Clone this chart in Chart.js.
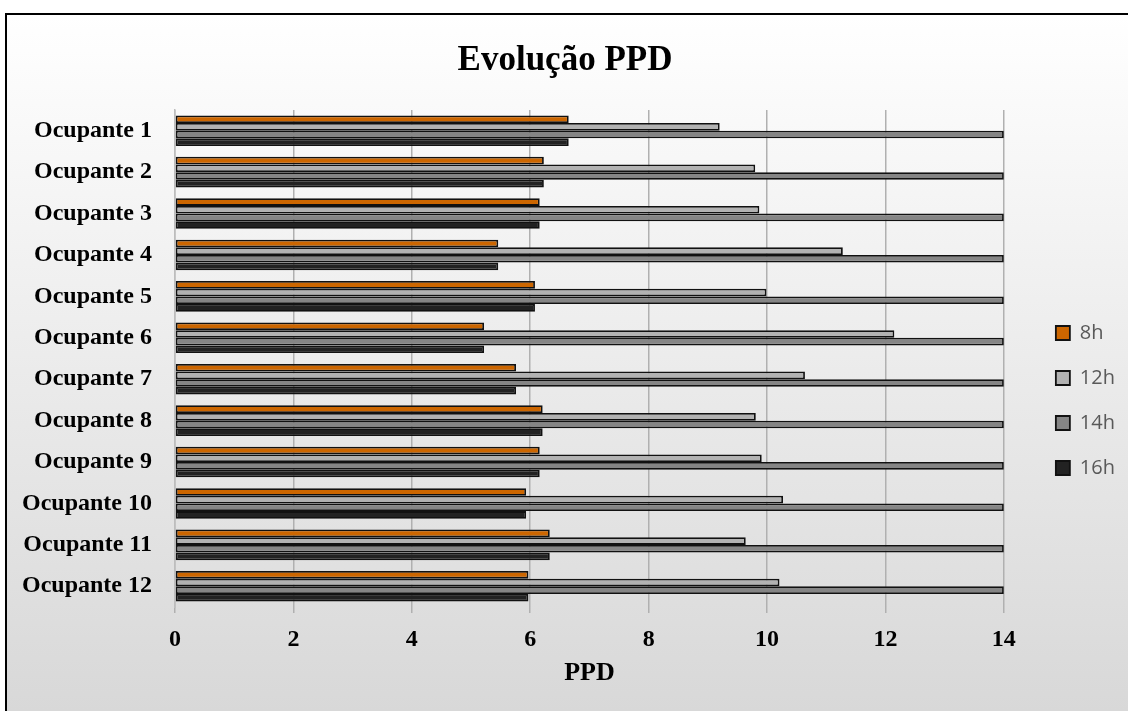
<!DOCTYPE html>
<html>
<head>
<meta charset="utf-8">
<script src="https://cdn.jsdelivr.net/npm/chart.js@4/dist/chart.umd.min.js"></script>
<style>
html, body { margin: 0; padding: 0; background: #fff; }
#wrap { width: 1128px; height: 711px; }
</style>
</head>
<body>
<div id="wrap"><canvas id="ppdChart"></canvas></div>
<script>
// data
const ocupantes = ['Ocupante 1', 'Ocupante 2', 'Ocupante 3', 'Ocupante 4', 'Ocupante 5', 'Ocupante 6',
    'Ocupante 7', 'Ocupante 8', 'Ocupante 9', 'Ocupante 10', 'Ocupante 11', 'Ocupante 12'];
const ppd8h = [6.65, 6.23, 6.16, 5.46, 6.08, 5.22, 5.76, 6.21, 6.16, 5.93, 6.33, 5.97];
const ppd12h = [9.20, 9.80, 9.87, 11.28, 9.99, 12.15, 10.64, 9.81, 9.91, 10.27, 9.64, 10.21];
const ppd14h = [14, 14, 14, 14, 14, 14, 14, 14, 14, 14, 14, 14];
const ppd16h = [6.65, 6.23, 6.16, 5.46, 6.08, 5.22, 5.76, 6.21, 6.16, 5.93, 6.33, 5.97];
const xTicks = [0, 2, 4, 6, 8, 10, 12, 14];

const serif = 'Liberation Serif';

// gradient background + outer frame
const chartFrame = {
    id: 'chartFrame',
    beforeDraw(chart) {
        const { ctx, width, height } = chart;
        ctx.save();
        ctx.fillStyle = '#ffffff';
        ctx.fillRect(0, 0, width, height);
        const g = ctx.createLinearGradient(0, 14, 0, height);
        g.addColorStop(0, '#ffffff');
        g.addColorStop(1, '#d8d8d8');
        ctx.fillStyle = g;
        ctx.fillRect(6, 14, width, height);
        ctx.strokeStyle = '#000';
        ctx.lineWidth = 2;
        ctx.strokeRect(6, 14, width + 10, height + 10);
        ctx.restore();
    }
};

// nudge legend and title to where the original has them
const boxNudge = {
    id: 'boxNudge',
    afterLayout(chart) {
        const lg = chart.legend;
        if (lg) {
            lg.left += 27; lg.right += 27;
            lg.top += 56; lg.bottom += 56;
        }
        const tb = chart.titleBlock;
        if (tb) {
            tb.left += 13; tb.right += 13;
        }
    }
};

const ctx = document.getElementById('ppdChart').getContext('2d');

new Chart(ctx, {
    type: 'bar',
    data: {
        labels: ocupantes,
        datasets: [
            { label: '8h', data: ppd8h, backgroundColor: '#cc6600' },
            { label: '12h', data: ppd12h, backgroundColor: '#b2b2b2' },
            { label: '14h', data: ppd14h, backgroundColor: '#858585' },
            { label: '16h', data: ppd16h, backgroundColor: '#222222' },
        ],
    },
    options: {
        indexAxis: 'y',
        responsive: true,
        maintainAspectRatio: false,
        animation: false,
        datasets: {
            bar: {
                borderColor: '#111111',
                borderWidth: 1.8,
                borderSkipped: false,
                categoryPercentage: 0.74,
                barPercentage: 1.0,
            },
        },
        layout: { padding: { left: 6, right: 30, top: 0, bottom: 22 } },
        scales: {
            x: {
                min: xTicks[0],
                max: xTicks[xTicks.length - 1],
                ticks: {
                    stepSize: xTicks[1] - xTicks[0],
                    color: '#000',
                    padding: 12,
                    font: { family: serif, size: 24, weight: 'bold' },
                },
                grid: { color: '#b0b0b0', lineWidth: 1.5, tickLength: 6 },
                border: { display: false },
                title: {
                    display: true,
                    text: 'PPD',
                    color: '#000',
                    font: { family: serif, size: 26, weight: 'bold' },
                    padding: { top: -8, bottom: 0 },
                },
            },
            y: {
                afterFit(scale) { scale.width = 169; },
                ticks: {
                    color: '#000',
                    padding: 15,
                    font: { family: serif, size: 24, weight: 'bold' },
                },
                grid: { display: false },
                border: { display: true, color: '#bdbdbd', width: 1.5 },
            },
        },
        plugins: {
            title: {
                display: true,
                text: 'Evolução PPD',
                color: '#000',
                font: { family: serif, size: 35, weight: 'bold' },
                padding: { top: 40, bottom: 28 },
            },
            legend: {
                position: 'right',
                labels: {
                    boxWidth: 14,
                    boxHeight: 14,
                    padding: 25,
                    color: '#595959',
                    font: { family: 'Open Sans', size: 20 },
                },
            },
            tooltip: { enabled: false },
        },
    },
    plugins: [chartFrame, boxNudge],
});
</script>
</body>
</html>
